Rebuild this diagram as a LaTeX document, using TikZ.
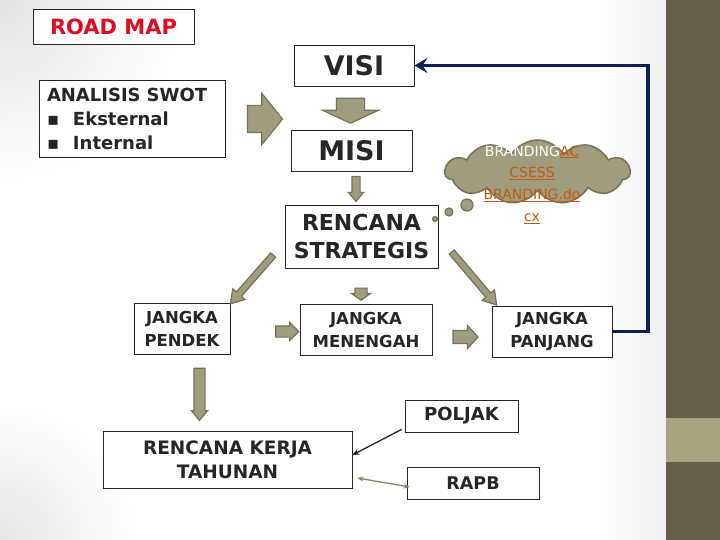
\documentclass[tikz,border=0pt]{standalone}
\usepackage{fontspec}
\setmainfont{DejaVu Sans}
\usetikzlibrary{shapes.arrows,shapes.symbols,arrows.meta,calc}
\definecolor{olivefill}{RGB}{160,156,126}
\definecolor{olivedraw}{RGB}{118,114,90}
\definecolor{navyline}{RGB}{12,32,86}
\definecolor{stripdark}{RGB}{102,94,72}
\definecolor{stripband}{RGB}{168,164,128}
\definecolor{linkorange}{RGB}{196,89,17}
\definecolor{textdark}{RGB}{38,38,38}
\definecolor{titlered}{RGB}{222,12,30}
\begin{document}
\begin{tikzpicture}[x=1pt,y=1pt,
  box/.style={draw=textdark,line width=0.8pt,fill=white,inner sep=0pt,align=center,text=textdark},
  blockarrow/.style={single arrow,draw=olivedraw,fill=olivefill,line width=1.2pt,inner xsep=0pt,single arrow head indent=0pt},
  bubble/.style={circle,draw=olivedraw,fill=olivefill,line width=1.2pt,inner sep=0pt}]
\useasboundingbox (0,0) rectangle (720,-540);
% background
\begin{scope}
\clip (0,0) rectangle (720,-540);
\fill[white] (0,0) rectangle (720,-540);
\shade[inner color=gray!22,outer color=white] (0,0) circle (180);
\shade[inner color=gray!20,outer color=white] (0,-540) circle (135);
\shade[left color=white,right color=gray!12] (600,0) rectangle (666,-540);
\fill[stripdark] (666,0) rectangle (720,-540);
\fill[stripband] (666,-418) rectangle (720,-462);
\end{scope}
% boxes
\node[box,minimum width=161,minimum height=35,text=titlered,font=\bfseries\fontsize{21}{25}\selectfont] (road) at (113.5,-26.5) {ROAD MAP};
\node[box,minimum width=186,minimum height=77,text width=170,align=left,font=\bfseries\fontsize{18}{24}\selectfont] (swot) at (132,-118.5)
  {ANALISIS SWOT\\\makebox[26pt][l]{▪}Eksternal\\\makebox[26pt][l]{▪}Internal};
\node[box,minimum width=120,minimum height=41,font=\bfseries\fontsize{27}{30}\selectfont] (visi) at (354,-65.5) {VISI};
\node[box,minimum width=121,minimum height=41,font=\bfseries\fontsize{27}{30}\selectfont] (misi) at (351.5,-150.5) {MISI};
\node[box,minimum width=153,minimum height=63,font=\bfseries\fontsize{22}{28}\selectfont] (renstra) at (361.5,-236.5) {RENCANA\\STRATEGIS};
\node[box,minimum width=96,minimum height=51,font=\bfseries\fontsize{16.5}{23}\selectfont] (pendek) at (182,-328.5) {JANGKA\\PENDEK};
\node[box,minimum width=132,minimum height=51,font=\bfseries\fontsize{16.5}{23}\selectfont] (menengah) at (366,-329.5) {JANGKA\\MENENGAH};
\node[box,minimum width=120,minimum height=51,font=\bfseries\fontsize{16.5}{23}\selectfont] (panjang) at (552,-331.5) {JANGKA\\PANJANG};
\node[box,minimum width=249,minimum height=57,font=\bfseries\fontsize{18.5}{24}\selectfont] (rkt) at (227.5,-459.5) {RENCANA KERJA\\TAHUNAN};
\node[box,minimum width=113,minimum height=32,font=\bfseries\fontsize{18}{22}\selectfont] (poljak) at (461.5,-416) {POLJAK};
\node[box,minimum width=132,minimum height=32,font=\bfseries\fontsize{17.5}{22}\selectfont] (rapb) at (473,-483) {RAPB};
% block arrows
\node[blockarrow,minimum height=35,minimum width=50,inner ysep=13,single arrow head extend=12,single arrow tip angle=102] (a1) at (259.5,-119) {};
\node[blockarrow,minimum height=25,minimum width=55,inner ysep=13.5,single arrow head extend=14,single arrow tip angle=130,rotate=-90] (a2) at (350.5,-107.5) {};
\node[blockarrow,minimum height=25,minimum width=14,inner ysep=3.5,single arrow head extend=3.5,single arrow tip angle=80,rotate=-90] (a3) at (356,-186.5) {};
\node[blockarrow,minimum height=65,minimum width=15,inner ysep=2.7,single arrow head extend=4.8,single arrow tip angle=64,rotate=228.7] (a4) at (253.5,-277.5) {};
\node[blockarrow,minimum height=12,minimum width=18,inner ysep=5.5,single arrow head extend=3.5,single arrow tip angle=110,rotate=-90] (a5) at (361,-292) {};
\node[blockarrow,minimum height=69.5,minimum width=15,inner ysep=2.7,single arrow head extend=4.8,single arrow tip angle=64,rotate=-49.7] (a6) at (472.5,-276.5) {};
\node[blockarrow,minimum height=23,minimum width=17,inner ysep=5,single arrow head extend=3.5,single arrow tip angle=90] (a7) at (284.5,-331.5) {};
\node[blockarrow,minimum height=25,minimum width=22,inner ysep=6,single arrow head extend=5,single arrow tip angle=95] (a8) at (462.5,-337) {};
\node[blockarrow,minimum height=52,minimum width=15,inner ysep=5,single arrow head extend=2.5,single arrow tip angle=80,rotate=-90] (a9) at (199.5,-391) {};
% cloud
\node[cloud,cloud puffs=11,cloud puff arc=115,aspect=2.9,draw=olivedraw,fill=olivefill,line width=1.5pt,minimum width=185,minimum height=64,inner sep=0pt] (cloud) at (537.5,-172) {};
\node[bubble,minimum size=12] (b1) at (467,-205) {};
\node[bubble,minimum size=8] (b2) at (449,-212) {};
\node[bubble,minimum size=5] (b3) at (435,-219) {};
\node[text=linkorange,align=center,font=\fontsize{14}{21.7}\selectfont] (cloudtxt) at (532,-184.5)
  {{\color{white}BRANDING}\underline{AC}\\\underline{CSESS}\\\underline{BRANDING.do}\\\underline{cx}};
% feedback line
\coordinate (fb) at (648,-65.5);
\draw[navyline,line width=3.5pt,-{Stealth[length=13pt,width=15pt,inset=5pt]}] (panjang.east) -| (fb) -- (visi.east);
% poljak / rapb links
\draw[textdark,line width=1.3pt,-{Stealth[length=7pt,width=6pt]}] ([shift={(-3,3)}]poljak.south west) -- ($(rkt.east)+(0,4.5)$);
\draw[olivefill!85!black,line width=1.3pt,{Stealth[length=6pt,width=5pt]}-{Stealth[length=6pt,width=5pt]}] ([shift={(3,-4)}]rapb.west) -- ($(rkt.east)+(5,-18.5)$);
\end{tikzpicture}
\end{document}
